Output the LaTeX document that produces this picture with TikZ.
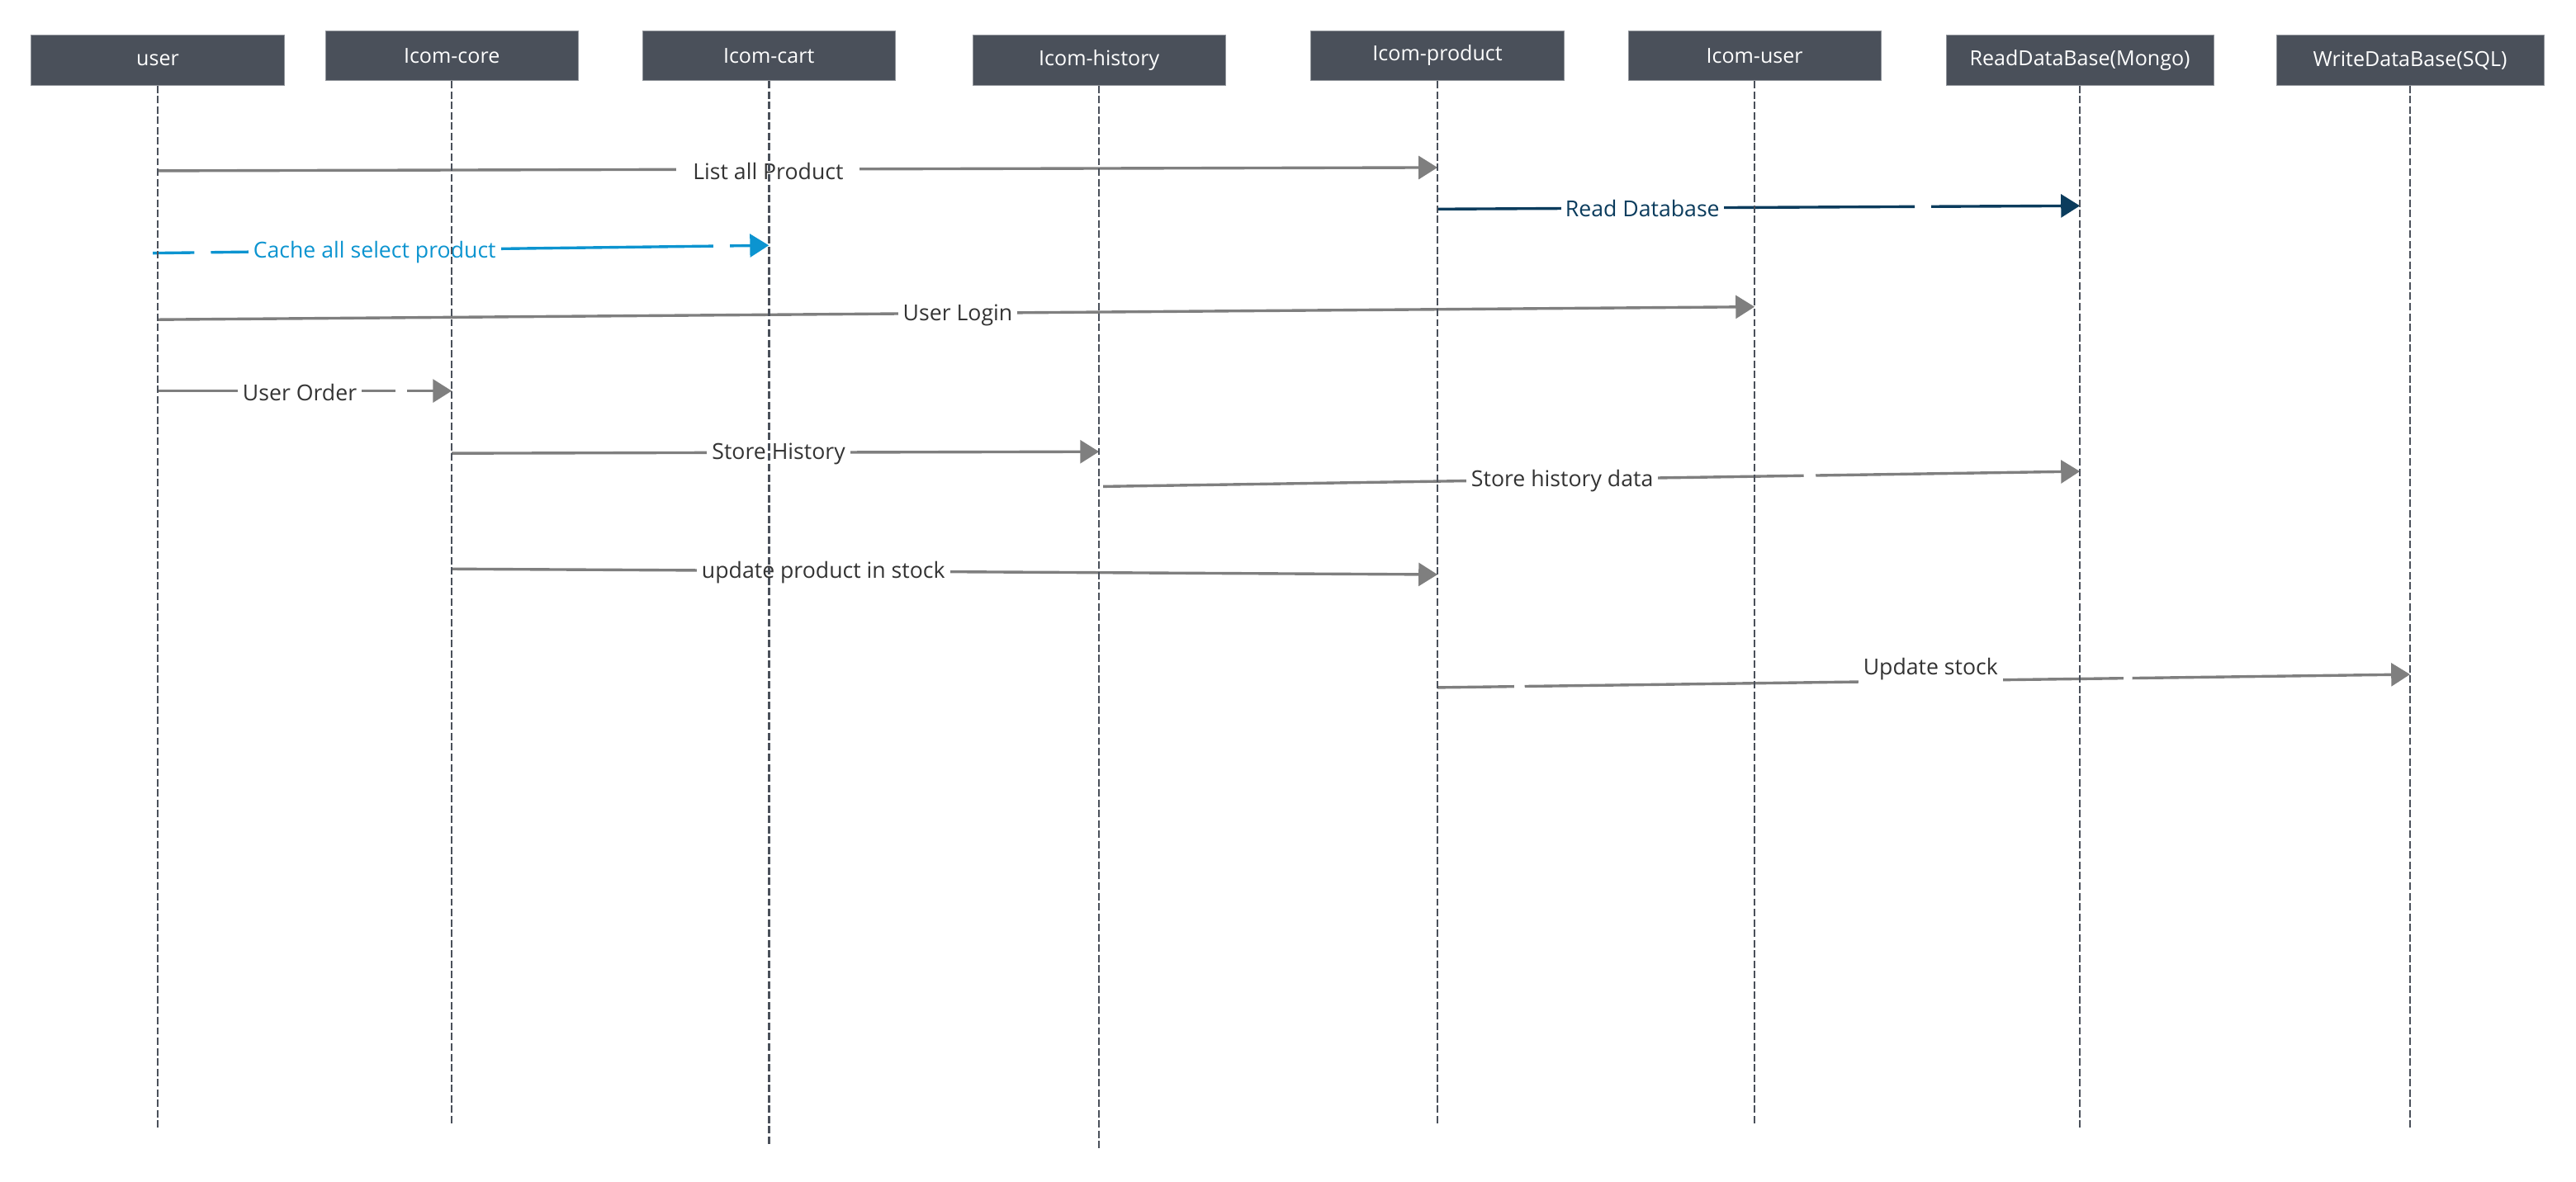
\documentclass[tikz,border=0pt]{standalone}
\usepackage{fontspec}
\setmainfont{Open Sans}
\usepackage{tikz}
\usetikzlibrary{arrows.meta}

\definecolor{boxgray}{HTML}{4A505A}
\definecolor{msggray}{HTML}{7F7F7F}
\definecolor{txtgray}{HTML}{333333}
\definecolor{cacheblue}{HTML}{0C94D0}
\definecolor{dbnavy}{HTML}{0B3C5D}

\begin{document}
\begin{tikzpicture}[x=1pt, y=-1pt,
  pnode/.style={rectangle, fill=boxgray, draw=boxgray!60!white, line width=0.4pt,
    text=white, minimum width=154pt, minimum height=30.5pt, inner sep=0pt,
    font=\fontsize{12.6}{15}\selectfont},
  dbnode/.style={pnode, minimum width=163pt},
  mnode/.style={fill=white, text=txtgray, inner xsep=3pt, inner ysep=3pt,
    font=\fontsize{13.4}{16}\selectfont},
  msg/.style={draw=msggray, line width=1.7pt, -{Triangle[length=11.5pt, width=14pt]}},
  life/.style={draw=boxgray, line width=1.3pt, dash pattern=on 4.5pt off 1.8pt}]

\useasboundingbox (0,0) rectangle (1568,719.6);

% participants
\node (user) [pnode] at (96,36.7) {user};
\node (core) [pnode] at (275,33.9) {Icom-core};
\node (cart) [pnode] at (468,33.9) {Icom-cart};
\node (history) [pnode] at (669,36.7) {Icom-history};
\node (product) [pnode] at (875,33.9) {Icom-product};
\node (iuser) [pnode] at (1068,33.9) {Icom-user};
\node (readdb) [dbnode] at (1266,36.7) {ReadDataBase(Mongo)};
\node (writedb) [dbnode] at (1467,36.7) {WriteDataBase(SQL)};

% messages
\draw [msg] (user |- 0,104) -- (product |- 0,102)
  node [mnode, pos=0.477, inner xsep=10pt, yshift=-1pt] {List all Product};
\draw [msg, draw=dbnavy, dash pattern=on 290.5pt off 10pt on 200pt] (product |- 0,127.3) -- (readdb |- 0,125.3)
  node [mnode, pos=0.319, inner xsep=2.5pt, text=dbnavy] {Read Database};
\draw [msg, draw=cacheblue, dash pattern=on 25.3pt off 10.1pt on 305.8pt off 10.1pt on 200pt]
  ([xshift=-3pt]user |- 0,154.1) -- (cart |- 0,149.4)
  node [mnode, pos=0.36, text=cacheblue, yshift=-1pt] {Cache all select product};
\draw [msg] (user |- 0,194.6) -- (iuser |- 0,186.8)
  node [mnode, pos=0.501, yshift=-1pt] {User Login};
\draw [msg, dash pattern=on 144.7pt off 7.3pt on 100pt] (user |- 0,238) -- (core |- 0,238)
  node [mnode, pos=0.483, yshift=-1pt] {User Order};
\draw [msg] (core |- 0,276) -- (history |- 0,275)
  node [mnode, pos=0.505, yshift=-1pt] {Store History};
\draw [msg, dash pattern=on 426.5pt off 7.3pt on 200pt] ([xshift=2.5pt]history |- 0,296.2) -- (readdb |- 0,287)
  node [mnode, pos=0.47, yshift=-1pt] {Store history data};
\draw [msg] (core |- 0,346.4) -- (product |- 0,349.8)
  node [mnode, pos=0.377, yshift=-1pt] {update product in stock};
\draw [msg, dash pattern=on 46.6pt off 6.5pt on 364.4pt off 5.5pt on 200pt] (product |- 0,418.6) -- (writedb |- 0,410.6)
  node [mnode, pos=0.507, yshift=7pt, inner ysep=4pt] {Update stock};

% lifelines
\foreach \p/\e in {user/688, core/685, cart/697, history/700, product/685, iuser/685, readdb/688, writedb/688}
  \draw [life] (\p.south) -- (\p |- 0,\e);
\end{tikzpicture}
\end{document}
